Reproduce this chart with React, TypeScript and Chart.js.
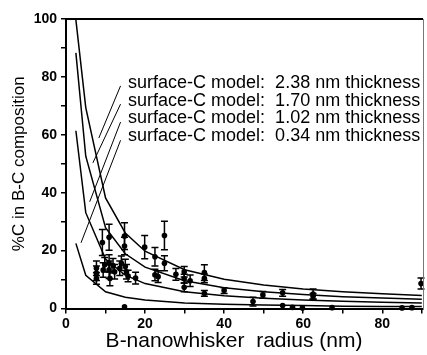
import React, { useEffect, useRef } from 'react';
import { Chart, registerables } from 'chart.js';
Chart.register(...registerables);

// Model curves (surface-C model), radius in nm vs %C
const modelRadius = [2.5, 5, 10, 15, 20, 30, 40, 50, 60, 70, 80, 90];
const model238 = [99.7, 69.4, 38.2, 26.1, 19.8, 13.4, 10.1, 8.1, 6.7, 5.8, 5.1, 4.5];
const model170 = [88.3, 52.6, 27.9, 18.9, 14.3, 9.6, 7.2, 5.8, 4.8, 4.1, 3.6, 3.2];
const model102 = [61.4, 33.1, 17.1, 11.5, 8.6, 5.8, 4.4, 3.5, 2.9, 2.5, 2.2, 1.9];
const model034 = [22.5, 11.5, 5.8, 3.9, 2.9, 1.9, 1.5, 1.2, 1.0, 0.8, 0.7, 0.65];

// Measured points
const whiskerRadius = [
  7.7, 7.7, 7.7, 9.2, 9.4, 9.8, 10.9, 10.9, 10.9, 11.1,
  11.9, 12.3, 13.6, 14.0, 14.8, 14.8, 15.0, 15.3, 15.7, 14.8,
  17.6, 19.9, 22.5, 22.5, 23.3, 24.9, 24.9, 27.8, 29.9, 29.9,
  29.9, 31.4, 35.0, 35.0, 35.0, 40.0, 47.3, 49.8, 54.8, 54.8,
  57.3, 59.8, 62.5, 62.5, 67.3, 85.0, 87.5, 89.8,
];
const carbonPct = [
  13.9, 12.2, 10.4, 22.8, 13.3, 15.1, 24.6, 15.6, 13.4, 10.4,
  14.8, 12.7, 13.9, 15.6, 25.0, 21.6, 14.5, 12.7, 11.2, 0.6,
  10.5, 21.2, 17.9, 11.6, 11.0, 25.2, 15.6, 11.8, 12.7, 10.3,
  7.3, 9.6, 12.4, 10.4, 5.2, 6.2, 2.4, 4.7, 5.4, 1.0,
  0.4, 0.2, 5.0, 4.2, 0.3, 0.2, 0.3, 8.6,
];
const carbonErr = [
  2.5, 2.5, 2.0, 4.5, 2.5, 2.5, 4.5, 3.0, 3.0, 2.5,
  2.5, 2.5, 2.5, 2.5, 4.6, 3.0, 2.5, 2.5, 2.0, 0,
  2.0, 4.0, 3.2, 2.0, 2.0, 4.9, 2.6, 2.0, 1.8, 1.5,
  1.5, 2.0, 2.7, 1.5, 1.0, 1.0, 1.5, 1.2, 1.2, 0,
  0, 0, 1.7, 1.0, 0, 0, 0, 1.9,
];

// Annotation labels and leader lines
const labelTexts = [
  'surface-C model:  2.38 nm thickness',
  'surface-C model:  1.70 nm thickness',
  'surface-C model:  1.02 nm thickness',
  'surface-C model:  0.34 nm thickness',
];
const labelR = 15.7;
const labelPct = [77.9, 71.8, 65.7, 59.6];
const leaderStartR = [13.8, 13.8, 13.8, 13.8];
const leaderStartPct = [76.9, 70.6, 64.4, 58.1];
const leaderEndR = [8.3, 6.8, 6.0, 3.8];
const leaderEndPct = [58.9, 50.3, 36.9, 22.7];

const xTitle = 'B-nanowhisker  radius (nm)';
const yTitle = '%C in B-C composition';

const FONT = "'Liberation Sans', Arial, sans-serif";

const toXY = (xs: number[], ys: number[]) => xs.map((x, i) => ({ x, y: ys[i] }));

const errorBarPlugin = {
  id: 'errorBars',
  afterDatasetsDraw(chart: any) {
    const { ctx, scales } = chart;
    const x = scales.x, y = scales.y;
    ctx.save();
    ctx.strokeStyle = '#000';
    ctx.lineWidth = 1.5;
    whiskerRadius.forEach((r, i) => {
      const e = carbonErr[i];
      if (!e) return;
      const px = x.getPixelForValue(r);
      const top = y.getPixelForValue(carbonPct[i] + e);
      const bot = y.getPixelForValue(Math.max(0, carbonPct[i] - e));
      ctx.beginPath();
      ctx.moveTo(px, top); ctx.lineTo(px, bot);
      ctx.moveTo(px - 3.5, top); ctx.lineTo(px + 3.5, top);
      ctx.moveTo(px - 3.5, bot); ctx.lineTo(px + 3.5, bot);
      ctx.stroke();
    });
    ctx.restore();
  },
};

const labelPlugin = {
  id: 'modelLabels',
  afterDraw(chart: any) {
    const { ctx, scales, chartArea } = chart;
    const x = scales.x, y = scales.y;
    ctx.save();
    ctx.fillStyle = '#000';
    ctx.font = `18px ${FONT}`;
    ctx.textAlign = 'left';
    ctx.textBaseline = 'middle';
    labelTexts.forEach((t, i) => {
      ctx.fillText(t, x.getPixelForValue(labelR), y.getPixelForValue(labelPct[i]));
    });
    // x-axis title
    ctx.font = `21px ${FONT}`;
    ctx.textAlign = 'center';
    ctx.fillText(xTitle, chartArea.left + 168, chartArea.bottom + 33);
    // frame: top and right
    ctx.strokeStyle = '#000';
    ctx.lineWidth = 2;
    ctx.beginPath();
    ctx.moveTo(chartArea.left, chartArea.top);
    ctx.lineTo(chartArea.right, chartArea.top);
    ctx.stroke();
    ctx.strokeStyle = '#777';
    ctx.lineWidth = 1;
    ctx.beginPath();
    ctx.moveTo(chartArea.right + 0.5, chartArea.top);
    ctx.lineTo(chartArea.right + 0.5, chartArea.bottom);
    ctx.stroke();
    ctx.restore();
  },
};

export default function App() {
  const ref = useRef<HTMLCanvasElement>(null);
  useEffect(() => {
    document.body.style.margin = '0';
    const curve = (ys: number[]) => ({
      data: toXY(modelRadius, ys),
      showLine: true,
      borderColor: '#000',
      borderWidth: 1.5,
      pointRadius: 0,
      tension: 0,
    });
    const leaders = leaderStartR.map((r, i) => ({
      data: [
        { x: r, y: leaderStartPct[i] },
        { x: leaderEndR[i], y: leaderEndPct[i] },
      ],
      showLine: true,
      borderColor: '#000',
      borderWidth: 1,
      pointRadius: 0,
    }));
    const chart = new Chart(ref.current!, {
      type: 'scatter',
      data: {
        datasets: [
          curve(model238),
          curve(model170),
          curve(model102),
          curve(model034),
          ...leaders,
          {
            data: toXY(whiskerRadius, carbonPct),
            pointRadius: 2.8,
            pointBackgroundColor: '#000',
            pointBorderWidth: 0,
            clip: false,
          } as any,
        ],
      },
      options: {
        animation: false,
        responsive: false,
        events: [],
        layout: { padding: { top: 19, right: 2, left: 0, bottom: 0 } },
        plugins: { legend: { display: false }, tooltip: { enabled: false } },
        scales: {
          x: {
            type: 'linear',
            min: 0,
            max: 90.3,
            border: { display: true, color: '#000', width: 2 },
            grid: { drawOnChartArea: false, drawTicks: true, tickLength: 5, color: '#000', lineWidth: 1.5 },
            ticks: {
              stepSize: 10,
              includeBounds: false,
              autoSkip: false,
              maxRotation: 0,
              color: '#000',
              padding: 2,
              font: { family: FONT, size: 14, weight: 'bold' },
              callback: (v: any) => (Number(v) % 20 === 0 ? String(v) : ''),
            },
            title: { display: false },
            afterFit: (s: any) => { s.height = 46.5; },
          },
          y: {
            type: 'linear',
            min: 0,
            max: 100,
            border: { display: true, color: '#000', width: 2 },
            grid: { drawOnChartArea: false, drawTicks: true, tickLength: 5, color: '#000', lineWidth: 1.5 },
            ticks: {
              stepSize: 10,
              includeBounds: false,
              autoSkip: false,
              color: '#000',
              padding: 4,
              font: { family: FONT, size: 14, weight: 'bold' },
              callback: (v: any) => (Number(v) % 20 === 0 ? String(v) : ''),
            },
            title: {
              display: true,
              text: yTitle,
              color: '#000',
              font: { family: FONT, size: 17 },
              padding: { top: 9, bottom: 0 },
            },
            afterFit: (s: any) => { s.width = 66; },
          },
        },
      },
      plugins: [errorBarPlugin, labelPlugin],
    });
    return () => chart.destroy();
  }, []);
  return (
    <div style={{ width: 427, height: 355 }}>
      <canvas ref={ref} width={427} height={355} />
    </div>
  );
}
